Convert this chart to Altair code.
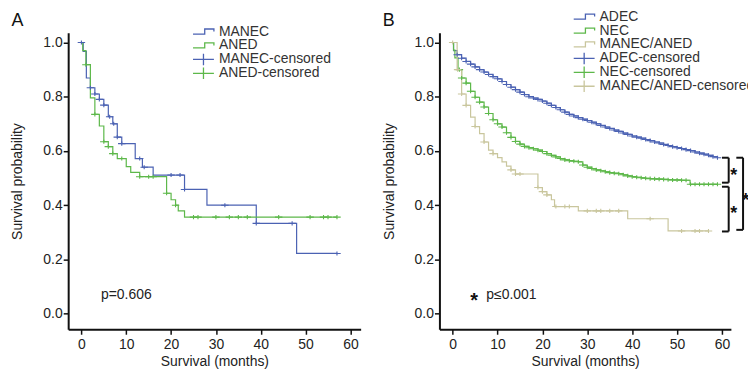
import altair as alt
import pandas as pd

FONT = "Liberation Sans"
BLUE = "#4b62b3"
GREEN = "#5db84a"
BEIGE = "#c9c69d"
TXT = "#222222"

# ---------------- Panel A data ----------------
manec_t = [0, 0.4, 1.1, 2, 3, 4, 5, 6, 7, 8, 9, 12, 13.6, 16, 23, 28, 39, 48, 57]
manec_s = [1.0, 0.967, 0.869, 0.833, 0.81, 0.79, 0.769, 0.726, 0.70, 0.651, 0.627,
           0.572, 0.54, 0.511, 0.458, 0.40, 0.333, 0.222, 0.222]
manec_c = [0, 2, 3, 4, 5, 6.3, 7.2, 8, 9, 13, 14, 20, 22, 23, 32, 39, 47, 57]

aned_t = [0, 0.3, 1, 2, 3, 4, 5, 6, 7, 8, 10, 11, 13, 19, 20, 21, 21.6, 23, 57]
aned_s = [1.0, 0.97, 0.918, 0.796, 0.735, 0.692, 0.634, 0.616, 0.59, 0.572, 0.542,
          0.521, 0.505, 0.444, 0.42, 0.40, 0.379, 0.356, 0.356]
aned_c = [1, 3, 5, 6, 7, 9, 13, 15, 16, 19, 21, 25, 26, 30, 33, 35, 37, 44, 51, 54, 55, 57]

# ---------------- Panel B data ----------------
adec_t = [0, 0.2, 1, 2, 3, 4, 5, 6, 7, 8, 9, 10, 11, 12, 13, 14, 15, 16, 17, 18, 19, 20,
          21, 22, 23, 24, 25, 26, 27, 28, 29, 30, 31, 32, 33, 34, 35, 36, 37, 38, 39, 40,
          41, 42, 43, 44, 45, 46, 47, 48, 49, 50, 51, 52, 53, 54, 55, 56, 57, 58, 59]
adec_s = [1.0, 0.97, 0.955, 0.942, 0.93, 0.92, 0.91, 0.90, 0.891, 0.882, 0.874, 0.866,
          0.856, 0.845, 0.835, 0.826, 0.817, 0.808, 0.80, 0.795, 0.79, 0.784, 0.776,
          0.768, 0.76, 0.752, 0.743, 0.735, 0.729, 0.723, 0.717, 0.712, 0.706, 0.70,
          0.694, 0.688, 0.683, 0.677, 0.672, 0.666, 0.661, 0.655, 0.651, 0.647, 0.642,
          0.638, 0.633, 0.629, 0.624, 0.62, 0.616, 0.612, 0.609, 0.605, 0.601, 0.596,
          0.592, 0.588, 0.584, 0.579, 0.575]
adec_c = [1, 2, 3, 4, 5, 6, 7, 8, 9, 10, 11, 12, 13, 14, 15, 16, 17, 18, 19, 20, 21, 22,
          23, 24, 25, 26, 27, 28, 29, 30, 31, 32, 33, 34, 35, 36, 37, 38, 39, 40, 41, 42,
          43, 44, 45, 46, 47, 48, 49, 50, 51, 52, 53, 54, 55, 56, 57, 58, 59]

nec_t = [0, 0.2, 0.5, 1.2, 2, 3, 4, 5, 6, 7, 8, 9, 10, 11, 12, 13, 14, 15, 16, 17, 18,
         19, 20, 21, 22, 23, 24, 25, 26, 27, 28, 29, 30, 31, 32, 33, 34, 35, 36, 37, 38,
         39, 40, 41, 42, 43, 44, 45, 46, 47, 48, 49, 50, 51, 52, 52.9, 59]
nec_s = [1.0, 0.972, 0.943, 0.90, 0.869, 0.85, 0.82, 0.798, 0.78, 0.762, 0.738, 0.715,
         0.70, 0.688, 0.667, 0.65, 0.635, 0.625, 0.617, 0.612, 0.608, 0.603, 0.598, 0.59,
         0.584, 0.578, 0.572, 0.567, 0.564, 0.562, 0.56, 0.548, 0.54, 0.535, 0.53, 0.527,
         0.523, 0.52, 0.518, 0.516, 0.512, 0.508, 0.505, 0.503, 0.501, 0.499, 0.498,
         0.497, 0.496, 0.495, 0.494, 0.493, 0.493, 0.492, 0.492, 0.477, 0.477]
nec_c = [1.5, 2, 3, 4, 5, 6, 7, 8, 9, 10, 11, 12, 13, 14, 15, 16, 17, 18, 19, 20, 21, 22,
         23, 24, 25, 26, 27, 28, 29, 30, 31, 32, 33, 34, 35, 36, 37, 38, 39, 40, 41, 42,
         43, 44, 45, 46, 47, 48, 49, 50, 51, 52, 53, 54, 55, 56, 57, 58, 59]

mix_t = [0, 1, 2, 3, 4, 5, 6, 7, 8, 9, 10, 11, 12, 13, 14, 19, 20, 21, 22, 22.7, 28, 39, 48, 57]
mix_s = [1.0, 0.90, 0.81, 0.768, 0.725, 0.69, 0.664, 0.633, 0.603, 0.59, 0.575, 0.56,
         0.544, 0.53, 0.515, 0.465, 0.45, 0.438, 0.42, 0.395, 0.379, 0.35, 0.305, 0.305]
mix_c = [0, 1.1, 2, 3, 5, 7, 9, 13, 14, 15, 19, 20, 21, 23, 25, 26, 30, 32, 33, 35, 37,
         44, 51, 54, 55, 57]

# significance brackets (panel B)
br_x0 = [60, 60, 63.2]
br_x1 = [61.5, 61.5, 64.7]
br_top = [0.575, 0.468, 0.575]
br_bot = [0.483, 0.303, 0.309]
star_x = [62.6, 62.6, 65.3]
star_y = [0.527, 0.385, 0.434]

x_ticks = [0, 10, 20, 30, 40, 50, 60]
y_ticks = [0.0, 0.2, 0.4, 0.6, 0.8, 1.0]
Y_DOMAIN = [-0.0576, 1.0356]

STEP = "M-1,0.24H0.12V-0.24H1V0"
CROSS = "M-1,0H1M0,-0.55V0.55"
LEG_FS = 14


def lookup(times, survs, x):
    v = survs[0]
    for ti, si in zip(times, survs):
        if ti <= x + 1e-9:
            v = si
    return v


def km_frame(times, survs, label):
    return pd.DataFrame({"t": times, "s": survs, "series": label})


def censor_frame(times, survs, ctimes, label):
    return pd.DataFrame({"t": ctimes,
                         "s": [lookup(times, survs, c) for c in ctimes],
                         "series": label})


def panel(curves, letter, xdom, width, legend_x, legend_y, extra=None):
    names = [c[0] for c in curves]
    cols = [c[4] for c in curves]
    domain = names + [n + "-censored" for n in names]
    colors = cols + cols
    shapes = [STEP] * len(names) + [CROSS] * len(names)
    lines_df = pd.concat([km_frame(c[1], c[2], c[0]) for c in curves])
    cens_df = pd.concat([censor_frame(c[1], c[2], c[3], c[0] + "-censored") for c in curves])

    x = alt.X("t:Q", scale=alt.Scale(domain=xdom, nice=False, zero=False),
              axis=alt.Axis(values=x_ticks, title="Survival (months)"))
    y = alt.Y("s:Q", scale=alt.Scale(domain=Y_DOMAIN, nice=False, zero=False),
              axis=alt.Axis(values=y_ticks, format=".1f", title="Survival probability"))
    leg = alt.Legend(title=None, orient="none", legendX=legend_x, legendY=legend_y,
                     labelFontSize=LEG_FS, labelFont=FONT, labelColor="#333")
    color = alt.Color("series:N", scale=alt.Scale(domain=domain, range=colors), legend=leg)
    shape = alt.Shape("series:N", scale=alt.Scale(domain=domain, range=shapes), legend=leg)

    lines = alt.Chart(lines_df).mark_line(interpolate="step-after", strokeWidth=1.2).encode(
        x=x, y=y, color=color)
    pts = alt.Chart(cens_df).mark_point(filled=False, size=56, strokeWidth=1.1, opacity=1).encode(
        x=x, y=y, color=color, shape=shape)
    lab = alt.Chart(pd.DataFrame({"label": [letter]})).mark_text(
        fontSize=18, align="left", baseline="alphabetic", color="#111").encode(
        text="label:N", x=alt.value(-57), y=alt.value(-7))
    pad = alt.Chart(pd.DataFrame({"label": ["."]})).mark_text(
        fontSize=4, opacity=0, baseline="top", align="left").encode(
        text="label:N", x=alt.value(0), y=alt.value(-24))
    layers = [lines, pts, lab, pad]
    if extra:
        layers += extra
    return alt.layer(*layers).properties(width=width, height=298)


# ---------- Panel A ----------
p_a = alt.Chart(pd.DataFrame({"t": [4.37], "s": [0.0525], "label": ["p=0.606"]})).mark_text(
    fontSize=14, align="left", baseline="alphabetic", color=TXT).encode(
    x="t:Q", y="s:Q", text="label:N")

chart_a = panel([("MANEC", manec_t, manec_s, manec_c, BLUE),
                 ("ANED", aned_t, aned_s, aned_c, GREEN)],
                "A", [-2.951, 62.28], 294, 124.5, -8.3, [p_a])

# ---------- Panel B ----------
segs = []
for x0, x1, t, b in zip(br_x0, br_x1, br_top, br_bot):
    segs.append({"x": x0, "x2": x1, "y": t, "y2": t})
    segs.append({"x": x0, "x2": x1, "y": b, "y2": b})
    segs.append({"x": x1, "x2": x1, "y": t, "y2": b})
seg_df = pd.DataFrame(segs)
brackets = alt.Chart(seg_df).mark_rule(color="#111", strokeWidth=2, clip=False).encode(
    x="x:Q", x2="x2:Q", y="y:Q", y2="y2:Q")
stars = alt.Chart(pd.DataFrame({"t": star_x, "s": star_y, "label": ["*"] * 3})).mark_text(
    fontSize=18, fontWeight="bold", dy=5, color="#111", clip=False).encode(
    x="t:Q", y="s:Q", text="label:N")
p_b_star = alt.Chart(pd.DataFrame({"t": [3.9], "s": [0.065], "label": ["*"]})).mark_text(
    fontSize=20, fontWeight="bold", align="left", dy=5, color="#111").encode(
    x="t:Q", y="s:Q", text="label:N")
p_b = alt.Chart(pd.DataFrame({"t": [7.5], "s": [0.0525], "label": ["p≤0.001"]})).mark_text(
    fontSize=14, align="left", baseline="alphabetic", color=TXT).encode(
    x="t:Q", y="s:Q", text="label:N")

chart_b = panel([("ADEC", adec_t, adec_s, adec_c, BLUE),
                 ("NEC", nec_t, nec_s, nec_c, GREEN),
                 ("MANEC/ANED", mix_t, mix_s, mix_c, BEIGE)],
                "B", [-2.945, 61.99], 293, 134, -23.3, [brackets, stars, p_b_star, p_b])

chart = alt.hconcat(chart_a, chart_b, spacing=21.2).resolve_scale(
    color="independent", shape="independent", x="independent", y="independent"
).properties(
    padding={"left": 2.5, "top": 0, "right": -7.6, "bottom": 0}
).configure(font=FONT).configure_view(stroke=None).configure_axis(
    grid=False, domainColor="#111", domainWidth=2, tickColor="#111", tickWidth=1.5,
    tickSize=5, labelFont=FONT, labelFontSize=14, labelColor=TXT, titleFont=FONT,
    titleFontSize=14, titleFontWeight="normal", titleColor=TXT
).configure_axisY(labelPadding=1, titlePadding=18).configure_axisX(
    labelPadding=3, titlePadding=3
).configure_legend(
    labelFont=FONT, labelFontSize=LEG_FS, labelColor="#333", symbolSize=441,
    symbolStrokeWidth=1.3, clipHeight=14, rowPadding=0, padding=0, labelOffset=4,
    labelLimit=400
)

chart.save("out.html", embed_options={"renderer": "svg", "actions": False})
